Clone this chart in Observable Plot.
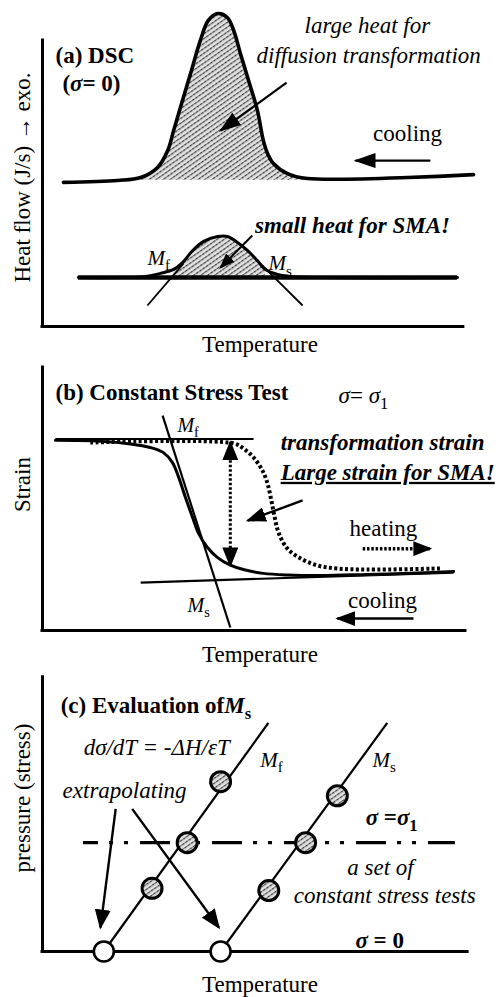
<!DOCTYPE html>
<html><head><meta charset="utf-8">
<script src="https://cdn.jsdelivr.net/npm/d3@7"></script>
<script src="https://cdn.jsdelivr.net/npm/@observablehq/plot@0.6"></script>
<style>
html,body{margin:0;padding:0;background:#fff;}
#chart{width:504px;}
#chart svg{display:block;}
</style></head><body><div id="chart"></div>
<script>
const SERIF = "'Liberation Serif', 'Times New Roman', Times, serif";
const NS = "http://www.w3.org/2000/svg";

// ---------- Panel (a) DSC, sigma = 0 (x: temperature a.u., y: heat flow a.u.) ----------
const dscLargeT = [4.96, 17.7, 23.2, 27.2, 29.6, 31.0, 32.6, 35.0, 37.3, 39.2, 41.4, 43.7, 45.2, 46.8, 48.5, 50.8, 52.2, 53.2, 54.6, 57.9, 62.6, 101.9];
const dscLargeH = [44.2, 44.8, 45.7, 48.8, 54.0, 60.1, 67.2, 77.6, 87.7, 93.9, 96.0, 94.8, 90.8, 83.7, 76.4, 66.3, 57.1, 53.1, 50.0, 46.9, 45.4, 46.6];
const dscLargeBase = 44.9;
const dscLargeFillRange = [17, 63];
const dscSmallT = [8.5, 23.9, 27.9, 31.0, 33.1, 35.5, 38.1, 41.4, 43.7, 46.1, 48.5, 50.8, 52.7, 55.6, 59.3, 98.1];
const dscSmallH = [15.0, 15.3, 16.3, 17.5, 19.6, 23.3, 26.1, 27.6, 27.6, 25.8, 23.3, 20.2, 17.5, 16.0, 15.3, 15.0];
const dscSmallBase = 15.0;
const dscSmallBaseRange = [8.5, 98.1];
const dscSmallFillRange = [30.9, 52.8];
const tangentsA = [{x1: 24.8, y1: 6.44, x2: 33.3, y2: 19.3}, {x1: 61.5, y1: 6.44, x2: 52.0, y2: 18.7}];
const arrowsA = [{x1: 57.7, y1: 74.8, x2: 42.1, y2: 60.1}, {x1: 91.7, y1: 50.9, x2: 74.0, y2: 50.9}];
const arrowsASmall = [{x1: 49.6, y1: 27.9, x2: 42.1, y2: 18.1}];
const axisA = {xEnd: 99.5, yTop: 87.7};
const italicA = [{text: "large heat for", x: 76.8, y: 92.3}, {text: "diffusion transformation", x: 77.1, y: 83.1}];
const regularA = [{text: "cooling", x: 86.3, y: 59.2}];
const boldA = [{text: "(a) DSC", x: 3.07, y: 83.1}, {text: "(*σ*= 0)", x: 4.7, y: 74.5}];
const boldItalicA = [{text: "small heat for SMA!", x: 73.3, y: 31.0}];
const mLabelsA = [{text: "M_f", x: 24.8, y: 20.9}, {text: "M_s", x: 53.4, y: 19.3}];
const yTitleA = "Heat flow (J/s) → exo.";

// ---------- Panel (b) constant stress test (x: temperature, y: strain) ----------
const coolT = [3.07, 13.7, 20.8, 25.5, 28.6, 30.7, 32.2, 33.8, 35.5, 36.9, 39.0, 41.4, 44.4, 47.5, 52.2, 58.0, 66.0, 76.8, 88.7, 97.2];
const coolS = [69.9, 69.6, 68.6, 67.3, 65.4, 61.8, 56.3, 48.9, 41.5, 35.7, 30.5, 26.8, 24.0, 22.4, 21.0, 20.4, 20.2, 20.6, 21.1, 21.7];
const heatT = [11.3, 45.2, 47.5, 49.9, 52.0, 53.2, 54.1, 54.8, 55.8, 57.9, 61.0, 65.0, 69.7, 76.8, 94.1];
const heatS = [69.1, 68.8, 66.9, 63.6, 58.8, 54.0, 47.8, 42.3, 36.0, 30.1, 26.5, 23.9, 22.8, 22.4, 22.8];
const linesB = [
  {x1: 3.07, y1: 70.4, x2: 49.9, y2: 70.4},
  {x1: 23.2, y1: 17.6, x2: 97.2, y2: 21.3},
  {x1: 28.4, y1: 79.0, x2: 44.4, y2: 1.1}
];
const strainArrowB = [{x1: 44.4, y1: 69.2, x2: 44.4, y2: 23.9}];
const arrowsB = [{x1: 61.5, y1: 47.8, x2: 48.5, y2: 40.4}, {x1: 87.7, y1: 4.4, x2: 69.7, y2: 4.4}];
const heatingArrowB = [{x1: 75.7, y1: 30.1, x2: 91.7, y2: 30.1}];
const axisB = {xEnd: 100, yTop: 96.7};
const boldB = [{text: "(b) Constant Stress Test", x: 3.07, y: 87.5}];
const sigmaB = [{text: "*σ*= *σ*_1", x: 70.0, y: 86.4}];
const mLabelsB = [{text: "M_f", x: 31.9, y: 75.4}, {text: "M_s", x: 34.3, y: 9.2}];
const boldItalicB = [{text: "transformation strain", x: 56.3, y: 69.1}, {text: "Large strain for SMA!", x: 56.3, y: 58.1}];
const regularB = [{text: "heating", x: 80.6, y: 37.5}, {text: "cooling", x: 80.4, y: 11.0}];
const yTitleB = "Strain";

// ---------- Panel (c) evaluation of Ms (x: temperature, y: stress, sigma1 = 1) ----------
const mfPointsT = [25.9, 34.2, 42.1];
const mfPointsS = [0.58, 1.0, 1.56];
const msPointsT = [53.5, 62.2, 69.7];
const msPointsS = [0.56, 1.0, 1.43];
const zeroStressT = [14.5, 42.1];
const fitLinesC = [{x1: 14.5, y1: 0, x2: 53.4, y2: 2.10}, {x1: 42.1, y1: 0, x2: 81.5, y2: 2.10}];
const sigma1 = 1;
const sigma1Range = [9.7, 97.6];
const arrowsC = [{x1: 17.3, y1: 1.31, x2: 13.7, y2: 0.22}, {x1: 21.2, y1: 1.31, x2: 41.7, y2: 0.22}];
const axisC = {xEnd: 100.5, yTop: 2.52};
const boldStartC = [{text: "(c) Evaluation of*M*_s", x: 4.3, y: 2.26}, {text: "*σ* =*σ*_1", x: 76.4, y: 1.23}];
const boldMiddleC = [{text: "*σ* = 0", x: 79.7, y: 0.10}];
const italicC = [
  {text: "dσ/dT = -ΔH/εT", x: 27.0, y: 1.87},
  {text: "extrapolating", x: 19.4, y: 1.48},
  {text: "a set of", x: 79.9, y: 0.77},
  {text: "constant stress tests", x: 80.9, y: 0.51}
];
const mLabelsC = [{text: "M_f", x: 51.5, y: 1.76}, {text: "M_s", x: 78.0, y: 1.76}];
const yTitleC = "pressure (stress)";
const xTitle = "Temperature";

// ---------- helpers ----------
const zip = (xs, ys) => xs.map((x, i) => ({x, y: ys[i]}));
const within = (rows, [a, b]) => rows.filter(d => d.x >= a && d.x <= b);

function head(len, wid) {
  return (color) => {
    const m = document.createElementNS(NS, "marker");
    m.setAttribute("viewBox", `${-len} ${-wid / 2} ${len + 2} ${wid}`);
    m.setAttribute("markerUnits", "userSpaceOnUse");
    m.setAttribute("markerWidth", len + 2);
    m.setAttribute("markerHeight", wid);
    m.setAttribute("refX", 0);
    m.setAttribute("refY", 0);
    m.setAttribute("orient", "auto-start-reverse");
    const p = document.createElementNS(NS, "path");
    p.setAttribute("d", `M${-len},${-wid / 2}L2,0L${-len},${wid / 2}Z`);
    p.setAttribute("fill", color || "black");
    p.setAttribute("stroke", "none");
    m.appendChild(p);
    return m;
  };
}

function addPattern(svg, id) {
  const defs = document.createElementNS(NS, "defs");
  defs.innerHTML = `<pattern id="${id}" patternUnits="userSpaceOnUse" width="4" height="4" patternTransform="rotate(-35)">
    <rect width="4" height="4" fill="#e2e2e2"/>
    <path d="M0,0.7H4" stroke="#3a3a3a" stroke-width="1.3" stroke-dasharray="2.6 0.8"/>
  </pattern>`;
  svg.insertBefore(defs, svg.firstChild);
}

function richText(svg) {
  svg.querySelectorAll("text").forEach(t => {
    const s = t.textContent;
    if (!/[_*]/.test(s)) return;
    t.textContent = "";
    const re = /(\*[^*]+\*)|(_.)|([^*_]+)/g;
    let m, shifted = false;
    while ((m = re.exec(s))) {
      const ts = document.createElementNS(NS, "tspan");
      if (m[1]) { ts.textContent = m[1].slice(1, -1); ts.setAttribute("font-style", "italic"); }
      else if (m[2]) {
        ts.textContent = m[2][1];
        ts.setAttribute("font-size", "72%");
        ts.setAttribute("font-style", "normal");
        ts.setAttribute("dy", "0.35em");
        shifted = true;
      } else { ts.textContent = m[3]; }
      if (shifted && !m[2]) { ts.setAttribute("dy", "-0.25em"); shifted = false; }
      t.appendChild(ts);
    }
  });
  svg.querySelectorAll("text").forEach(t => {
    if (t.textContent.startsWith("Large strain")) t.style.textDecoration = "underline";
  });
}

const baseStyle = {fontFamily: SERIF, fontSize: "23px", background: "white", color: "black", overflow: "visible"};

function axes(ax) {
  return [
    Plot.ruleX([0], {y1: 0, y2: ax.yTop, strokeWidth: 3, strokeLinecap: "square"}),
    Plot.ruleY([0], {x1: 0, x2: ax.xEnd, strokeWidth: 3, strokeLinecap: "square"})
  ];
}
function titles(yTitle, yShift, xShift) {
  return [
    Plot.text([yTitle], {frameAnchor: "left", textAnchor: "middle", rotate: -90, dx: -20, dy: yShift, lineAnchor: "middle", fontSize: 23}),
    Plot.text([xTitle], {frameAnchor: "bottom", textAnchor: "middle", dx: 6, dy: xShift, lineAnchor: "middle", fontSize: 23})
  ];
}

// ---------- Panel (a) ----------
const largePeak = zip(dscLargeT, dscLargeH);
const smallPeak = zip(dscSmallT, dscSmallH);
const plotA = Plot.plot({
  width: 504, height: 358, marginLeft: 42, marginRight: 39, marginTop: 0, marginBottom: 32,
  x: {domain: [0, 100], axis: null}, y: {domain: [0, 100], axis: null},
  style: baseStyle,
  marks: [
    Plot.areaY(within(largePeak, dscLargeFillRange), {x: "x", y1: dscLargeBase, y2: "y", fill: "url(#hatchA)", curve: "catmull-rom"}),
    Plot.line(largePeak, {x: "x", y: "y", curve: "catmull-rom", strokeWidth: 3.6}),
    Plot.areaY(within(smallPeak, dscSmallFillRange), {x: "x", y1: dscSmallBase, y2: "y", fill: "url(#hatchA)", curve: "catmull-rom"}),
    Plot.ruleY([dscSmallBase], {x1: dscSmallBaseRange[0], x2: dscSmallBaseRange[1], strokeWidth: 4.5}),
    Plot.line(smallPeak, {x: "x", y: "y", curve: "catmull-rom", strokeWidth: 3}),
    Plot.link(tangentsA, {x1: "x1", y1: "y1", x2: "x2", y2: "y2", strokeWidth: 1.8}),
    Plot.link(arrowsA, {x1: "x1", y1: "y1", x2: "x2", y2: "y2", strokeWidth: 2.2, markerEnd: head(20, 15)}),
    Plot.link(arrowsASmall, {x1: "x1", y1: "y1", x2: "x2", y2: "y2", strokeWidth: 2, markerEnd: head(14, 12)}),
    ...axes(axisA),
    Plot.text(italicA, {x: "x", y: "y", text: "text", fontStyle: "italic", fontSize: 23}),
    Plot.text(regularA, {x: "x", y: "y", text: "text", fontSize: 23}),
    Plot.text(boldA, {x: "x", y: "y", text: "text", fontWeight: "bold", textAnchor: "start", fontSize: 23}),
    Plot.text(boldItalicA, {x: "x", y: "y", text: "text", fontWeight: "bold", fontStyle: "italic", fontSize: 23}),
    Plot.text(mLabelsA, {x: "x", y: "y", text: "text", fontStyle: "italic", textAnchor: "start", fontSize: 21}),
    ...titles(yTitleA, 14, 18)
  ]
});
addPattern(plotA, "hatchA");
richText(plotA);

// ---------- Panel (b) ----------
const plotB = Plot.plot({
  width: 504, height: 310, marginLeft: 42, marginRight: 39, marginTop: 0, marginBottom: 38,
  x: {domain: [0, 100], axis: null}, y: {domain: [0, 100], axis: null},
  style: baseStyle,
  marks: [
    Plot.link(linesB, {x1: "x1", y1: "y1", x2: "x2", y2: "y2", strokeWidth: 2.2}),
    Plot.line(zip(coolT, coolS), {x: "x", y: "y", curve: "catmull-rom", strokeWidth: 3}),
    Plot.line(zip(heatT, heatS), {x: "x", y: "y", curve: "catmull-rom", strokeWidth: 4, strokeDasharray: "3,2.4", strokeLinecap: "butt"}),
    Plot.link(strainArrowB, {x1: "x1", y1: "y1", x2: "x2", y2: "y2", strokeWidth: 3, strokeDasharray: "2.5,2", strokeLinecap: "butt", markerStart: head(18, 16), markerEnd: head(18, 16)}),
    Plot.link(arrowsB, {x1: "x1", y1: "y1", x2: "x2", y2: "y2", strokeWidth: 2.4, markerEnd: head(18, 15)}),
    Plot.link(heatingArrowB, {x1: "x1", y1: "y1", x2: "x2", y2: "y2", strokeWidth: 3.5, strokeDasharray: "2.5,1.8", strokeLinecap: "butt", markerEnd: head(17, 15)}),
    ...axes(axisB),
    Plot.text(boldB, {x: "x", y: "y", text: "text", fontWeight: "bold", textAnchor: "start", fontSize: 23}),
    Plot.text(sigmaB, {x: "x", y: "y", text: "text", textAnchor: "start", fontSize: 23}),
    Plot.text(mLabelsB, {x: "x", y: "y", text: "text", fontStyle: "italic", textAnchor: "start", fontSize: 20}),
    Plot.text(boldItalicB, {x: "x", y: "y", text: "text", fontWeight: "bold", fontStyle: "italic", textAnchor: "start", fontSize: 23}),
    Plot.text(regularB, {x: "x", y: "y", text: "text", fontSize: 23}),
    ...titles(yTitleB, -10, 24)
  ]
});
richText(plotB);

// ---------- Panel (c) ----------
const plotC = Plot.plot({
  width: 504, height: 329, marginLeft: 42, marginRight: 39, marginTop: 0, marginBottom: 46,
  x: {domain: [0, 100], axis: null}, y: {domain: [0, 2.6], axis: null},
  style: baseStyle,
  marks: [
    Plot.ruleY([sigma1], {x1: sigma1Range[0], x2: sigma1Range[1], strokeWidth: 3.2, strokeDasharray: "30,11,4,11,4,12", strokeDashoffset: 15}),
    Plot.link(fitLinesC, {x1: "x1", y1: "y1", x2: "x2", y2: "y2", strokeWidth: 2.2}),
    Plot.link(arrowsC, {x1: "x1", y1: "y1", x2: "x2", y2: "y2", strokeWidth: 2.4, markerEnd: head(18, 16)}),
    ...axes(axisC),
    Plot.dot(zip(mfPointsT, mfPointsS).concat(zip(msPointsT, msPointsS)), {x: "x", y: "y", r: 10, fill: "url(#hatchC)", stroke: "black", strokeWidth: 3}),
    Plot.dot(zeroStressT, {x: d => d, y: 0, r: 10, fill: "white", stroke: "black", strokeWidth: 2.6}),
    Plot.text(boldStartC, {x: "x", y: "y", text: "text", fontWeight: "bold", textAnchor: "start", fontSize: 23}),
    Plot.text(boldMiddleC, {x: "x", y: "y", text: "text", fontWeight: "bold", fontSize: 23}),
    Plot.text(italicC, {x: "x", y: "y", text: "text", fontStyle: "italic", fontSize: 23}),
    Plot.text(mLabelsC, {x: "x", y: "y", text: "text", fontStyle: "italic", textAnchor: "start", fontSize: 21}),
    ...titles(yTitleC, -12, 33)
  ]
});
addPattern(plotC, "hatchC");
richText(plotC);

const chart = document.getElementById("chart");
chart.append(plotA, plotB, plotC);
</script></body></html>
